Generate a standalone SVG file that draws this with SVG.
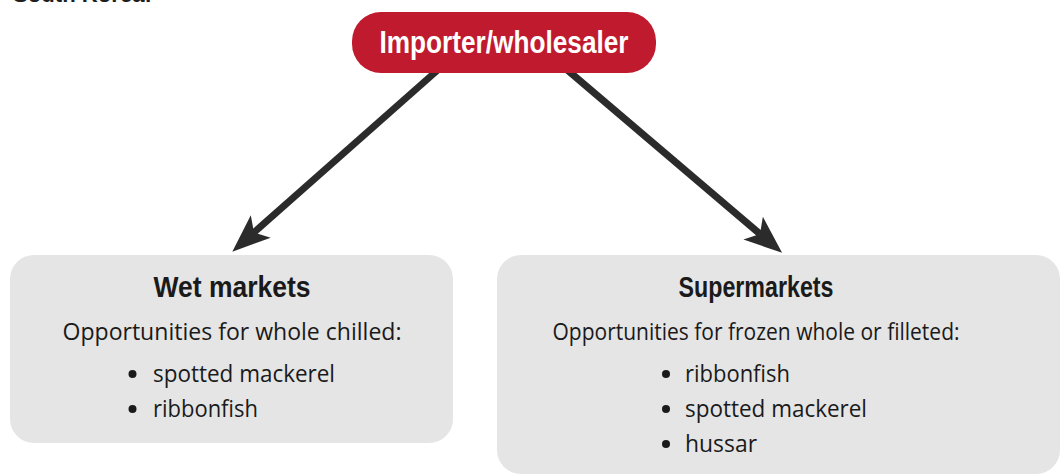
<svg xmlns="http://www.w3.org/2000/svg" width="1062" height="476" viewBox="0 0 1062 476">
  <style>
    .box { fill: #e5e5e5; }
    .pill { fill: #c01a2e; }
    .conn { stroke: #2b2b2b; stroke-width: 7; fill: none; marker-end: url(#ah); }
    .head { font-family: "Liberation Sans Narrow", "Liberation Sans", Arial, sans-serif; font-weight: bold; fill: #1a1a1a; font-size: 30px; text-anchor: middle; }
    .title { font-family: "Liberation Sans Narrow", "Liberation Sans", Arial, sans-serif; font-weight: bold; fill: #ffffff; font-size: 32px; text-anchor: middle; }
    .body { font-family: "Open Sans", "Liberation Sans", Arial, sans-serif; fill: #1a1a1a; font-size: 23px; }
    .mid { text-anchor: middle; }
    .dot { fill: #1a1a1a; }
    .top { font-family: "Liberation Sans", Arial, sans-serif; font-weight: bold; fill: #1e1e1e; font-size: 22px; }
  </style>
  <defs>
    <marker id="ah" markerUnits="userSpaceOnUse" markerWidth="44" markerHeight="34" viewBox="0 -17 44 34" refX="9" refY="0" orient="auto" overflow="visible">
      <path d="M0,-15 L38,0 L0,15 L9,0 Z" fill="#2b2b2b"/>
    </marker>
  </defs>
  <rect width="1062" height="476" fill="#ffffff"/>
  <text class="top" x="13" y="2" textLength="139" lengthAdjust="spacingAndGlyphs">South Korea:</text>

  <g id="connectors">
    <line class="conn" x1="440" y1="68" x2="254" y2="232.5"/>
    <line class="conn" x1="565" y1="68" x2="760" y2="234"/>
  </g>

  <g id="importer">
    <rect class="pill" x="352" y="12" width="304" height="61" rx="29"/>
    <text class="title" x="504" y="53" textLength="249" lengthAdjust="spacingAndGlyphs">Importer/wholesaler</text>
  </g>

  <g id="wet-markets">
    <rect class="box" x="10" y="255" width="443" height="188" rx="24"/>
    <text class="head" x="232" y="297" textLength="157" lengthAdjust="spacingAndGlyphs">Wet markets</text>
    <text class="body mid" x="232" y="340" textLength="339" lengthAdjust="spacingAndGlyphs">Opportunities for whole chilled:</text>
    <circle class="dot" cx="132.5" cy="374" r="4"/>
    <text class="body" x="153" y="382" textLength="182" lengthAdjust="spacingAndGlyphs">spotted mackerel</text>
    <circle class="dot" cx="132.5" cy="409" r="4"/>
    <text class="body" x="153" y="417" textLength="105" lengthAdjust="spacingAndGlyphs">ribbonfish</text>
  </g>

  <g id="supermarkets">
    <rect class="box" x="497" y="255" width="563" height="219" rx="24"/>
    <text class="head" x="756" y="297" textLength="155" lengthAdjust="spacingAndGlyphs">Supermarkets</text>
    <text class="body mid" x="756" y="340" textLength="407" lengthAdjust="spacingAndGlyphs">Opportunities for frozen whole or filleted:</text>
    <circle class="dot" cx="666" cy="374" r="4"/>
    <text class="body" x="685" y="382" textLength="105" lengthAdjust="spacingAndGlyphs">ribbonfish</text>
    <circle class="dot" cx="666" cy="409" r="4"/>
    <text class="body" x="685" y="417" textLength="182" lengthAdjust="spacingAndGlyphs">spotted mackerel</text>
    <circle class="dot" cx="666" cy="444" r="4"/>
    <text class="body" x="685" y="452" textLength="72" lengthAdjust="spacingAndGlyphs">hussar</text>
  </g>
</svg>
